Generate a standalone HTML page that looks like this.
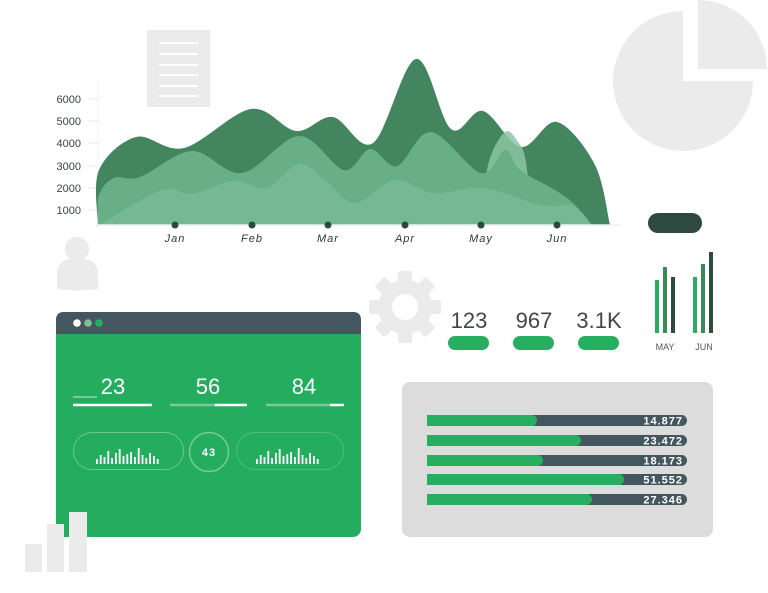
<!DOCTYPE html>
<html><head><meta charset="utf-8"><style>
html,body{margin:0;padding:0;background:#fff;width:768px;height:593px;overflow:hidden}
svg{display:block}
text{font-family:"Liberation Sans",sans-serif}
</style></head><body>
<svg width="768" height="593" viewBox="0 0 768 593" xmlns="http://www.w3.org/2000/svg">
<path d="M683,81 L683,11 A70,70 0 1 0 753,81 Z" fill="#ebebeb"/>
<path d="M698,69 L698,0 A69,69 0 0 1 767,69 Z" fill="#ebebeb"/>
<rect x="147" y="30" width="63" height="77" fill="#ebebeb"/>
<g stroke="#fff" stroke-width="2"><line x1="159" y1="43" x2="198" y2="43"/><line x1="159" y1="54" x2="198" y2="54"/><line x1="159" y1="65" x2="198" y2="65"/><line x1="159" y1="75" x2="198" y2="75"/><line x1="159" y1="86" x2="198" y2="86"/><line x1="159" y1="96" x2="198" y2="96"/></g>
<circle cx="77" cy="249" r="12" fill="#ebebeb"/>
<path d="M57,289 L57,275 Q57,259 73,259 L82,259 Q98,259 98,275 L98,289 Q78,292 57,289Z" fill="#ebebeb"/>
<line x1="98" y1="80" x2="98" y2="225" stroke="#f0f0f0" stroke-width="1"/>
<g stroke="#e8e8e8" stroke-width="1"><line x1="88" y1="99" x2="98" y2="99"/><line x1="88" y1="121" x2="98" y2="121"/><line x1="88" y1="143" x2="98" y2="143"/><line x1="88" y1="166" x2="98" y2="166"/><line x1="88" y1="188" x2="98" y2="188"/><line x1="88" y1="210" x2="98" y2="210"/></g>
<g font-size="11" fill="#3a4545" text-anchor="end"><text x="81" y="103">6000</text><text x="81" y="125">5000</text><text x="81" y="147">4000</text><text x="81" y="170">3000</text><text x="81" y="192">2000</text><text x="81" y="214">1000</text></g>
<path id="dark" fill="#43855f"/>
<path id="blob" fill="#8cc6a2" opacity="0.85"/>
<path id="mid" fill="#68ae87"/>
<path id="light" fill="#76b894"/>
<line x1="98" y1="225" x2="620" y2="225" stroke="#eaf3ee" stroke-width="1.5"/>
<g fill="#2d4a3e"><circle cx="175" cy="225" r="3.5"/><circle cx="252" cy="225" r="3.5"/><circle cx="328" cy="225" r="3.5"/><circle cx="405" cy="225" r="3.5"/><circle cx="481" cy="225" r="3.5"/><circle cx="557" cy="225" r="3.5"/></g>
<g font-size="11" font-style="italic" fill="#2d3a3a" text-anchor="middle" letter-spacing="1"><text x="175" y="242">Jan</text><text x="252" y="242">Feb</text><text x="328" y="242">Mar</text><text x="405" y="242">Apr</text><text x="481" y="242">May</text><text x="557" y="242">Jun</text></g>
<rect x="648" y="213" width="54" height="20" rx="10" fill="#2e4a40"/>
<rect x="655" y="280" width="4" height="53" fill="#27ae60"/>
<rect x="663" y="267" width="4" height="66" fill="#3a8a55"/>
<rect x="671" y="277" width="4" height="56" fill="#2d4a3e"/>
<rect x="693" y="277" width="4" height="56" fill="#27ae60"/>
<rect x="701" y="264" width="4" height="69" fill="#3a8a55"/>
<rect x="709" y="252" width="4" height="81" fill="#2d4a3e"/>
<g font-size="9" fill="#555" text-anchor="middle"><text x="665" y="350">MAY</text><text x="704" y="350">JUN</text></g>
<g fill="#ebebeb" transform="translate(405,307)">
<circle r="27"/>
<g id="teeth"><rect x="-7" y="-36" width="14" height="14" rx="2"/></g>
<use href="#teeth" transform="rotate(45)"/><use href="#teeth" transform="rotate(90)"/><use href="#teeth" transform="rotate(135)"/><use href="#teeth" transform="rotate(180)"/><use href="#teeth" transform="rotate(225)"/><use href="#teeth" transform="rotate(270)"/><use href="#teeth" transform="rotate(315)"/>
<circle r="13" fill="#fff"/>
</g>
<g font-size="22" fill="#3c4a4a" text-anchor="middle"><text x="469" y="328">123</text><text x="534" y="328">967</text><text x="599" y="328">3.1K</text></g>
<g fill="#27ae60"><rect x="448" y="336" width="41" height="14" rx="7"/><rect x="513" y="336" width="41" height="14" rx="7"/><rect x="578" y="336" width="41" height="14" rx="7"/></g>
<rect x="402" y="382" width="311" height="155" rx="8" fill="#dcdcdc"/>
<g>
<rect x="427" y="415" width="260" height="11" rx="5.5" fill="#44565e"/><rect x="427" y="415" width="110" height="11" rx="5.5" fill="#27ae60"/><rect x="427" y="415" width="10" height="11" fill="#27ae60"/>
<rect x="427" y="435" width="260" height="11" rx="5.5" fill="#44565e"/><rect x="427" y="435" width="154" height="11" rx="5.5" fill="#27ae60"/><rect x="427" y="435" width="10" height="11" fill="#27ae60"/>
<rect x="427" y="455" width="260" height="11" rx="5.5" fill="#44565e"/><rect x="427" y="455" width="116" height="11" rx="5.5" fill="#27ae60"/><rect x="427" y="455" width="10" height="11" fill="#27ae60"/>
<rect x="427" y="474" width="260" height="11" rx="5.5" fill="#44565e"/><rect x="427" y="474" width="197" height="11" rx="5.5" fill="#27ae60"/><rect x="427" y="474" width="10" height="11" fill="#27ae60"/>
<rect x="427" y="494" width="260" height="11" rx="5.5" fill="#44565e"/><rect x="427" y="494" width="165" height="11" rx="5.5" fill="#27ae60"/><rect x="427" y="494" width="10" height="11" fill="#27ae60"/>
</g>
<g font-size="11" font-weight="bold" fill="#fff" text-anchor="end" letter-spacing="1"><text x="683" y="424.5">14.877</text><text x="683" y="444.5">23.472</text><text x="683" y="464.5">18.173</text><text x="683" y="483.5">51.552</text><text x="683" y="503.5">27.346</text></g>
<rect x="56" y="312" width="305" height="225" rx="8" fill="#25ad5f"/>
<path d="M56,334 L56,320 Q56,312 64,312 L353,312 Q361,312 361,320 L361,334 Z" fill="#44575f"/>
<circle cx="77" cy="323" r="3.8" fill="#fff"/><circle cx="88" cy="323" r="3.8" fill="#7fbf94"/><circle cx="99" cy="323" r="3.8" fill="#27ae60"/>
<g font-size="22" fill="#fff" text-anchor="middle"><text x="113" y="394">23</text><text x="208" y="394">56</text><text x="304" y="394">84</text></g>
<line x1="73" y1="397" x2="97" y2="397" stroke="#7dc79c" stroke-width="2"/>
<line x1="73" y1="405" x2="152" y2="405" stroke="#fff" stroke-width="2.5"/>
<line x1="170" y1="405" x2="215" y2="405" stroke="#7dc79c" stroke-width="2.5"/><line x1="215" y1="405" x2="247" y2="405" stroke="#fff" stroke-width="2.5"/>
<line x1="266" y1="405" x2="330" y2="405" stroke="#7dc79c" stroke-width="2.5"/><line x1="330" y1="405" x2="344" y2="405" stroke="#fff" stroke-width="2.5"/>
<rect x="73.5" y="432.5" width="110" height="37" rx="18.5" fill="none" stroke="#6fc691" stroke-width="1"/>
<rect x="236.5" y="432.5" width="107" height="37" rx="18.5" fill="none" stroke="#4fbc7a" stroke-width="1"/>
<circle cx="209" cy="452" r="19.5" fill="none" stroke="#7dc79c" stroke-width="1.5"/>
<text x="209" y="456" font-size="11" font-weight="bold" fill="#fff" text-anchor="middle" letter-spacing="1">43</text>
<g id="mb" fill="#fff"></g>
<rect x="25" y="544" width="17" height="28" fill="#ebebeb"/>
<rect x="47" y="524" width="17" height="48" fill="#ebebeb"/>
<rect x="69" y="512" width="18" height="60" fill="#ebebeb"/>
</svg>
<script>
function sm(pts){
 let d="M"+pts[0][0]+","+pts[0][1];
 for(let i=0;i<pts.length-1;i++){
  const p0=pts[i-1]||pts[i],p1=pts[i],p2=pts[i+1],p3=pts[i+2]||p2;
  const c1=[p1[0]+(p2[0]-p0[0])/6,p1[1]+(p2[1]-p0[1])/6];
  const c2=[p2[0]-(p3[0]-p1[0])/6,p2[1]-(p3[1]-p1[1])/6];
  d+=" C"+c1+" "+c2+" "+p2;
 }
 return d;
}
function area(id,pts,end){
 document.getElementById(id).setAttribute("d",sm(pts)+" L"+end+",225 L98,225 Z");
}
area("dark",[[98,225],[99,170],[136,137],[184,148],[251,109],[296,131],[333,117],[373,143],[416,59],[451,129],[483,111],[521,147],[557,122],[595,165],[610,225]],610);
area("blob",[[482,225],[488,165],[505,132],[518,142],[526,162],[532,225]],532);
area("mid",[[98,225],[99,195],[114,178],[140,177],[192,151],[242,173],[299,136],[344,170],[370,149],[397,166],[431,132],[481,173],[505,150],[520,170],[555,190],[573,203],[592,225]],592);
area("light",[[98,225],[101,224],[162,190],[192,194],[233,181],[266,188],[299,164],[325,180],[355,203],[395,180],[433,193],[484,188],[540,205],[573,206],[592,225]],592);
const h=[5,9,7,13,6,11,15,8,10,12,7,16,9,6,11,8,5];
let s="";
[[96],[256]].forEach(([x0])=>{h.forEach((v,i)=>{s+=`<rect x="${x0+i*3.8}" y="${464-v}" width="1.8" height="${v}"/>`;});});
document.getElementById("mb").innerHTML=s;
</script>
</body></html>
